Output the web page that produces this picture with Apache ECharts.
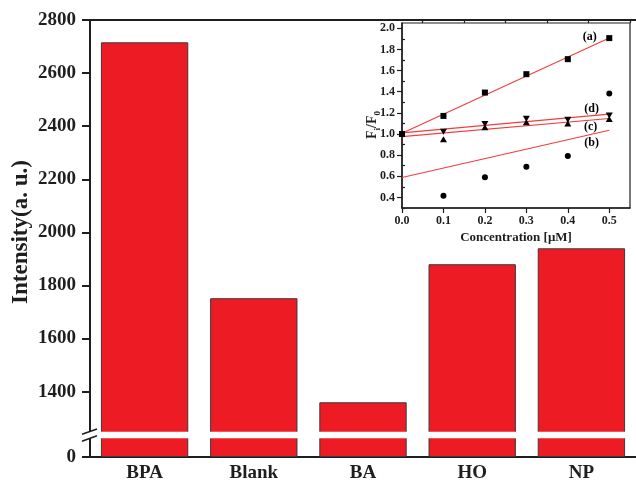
<!DOCTYPE html>
<html>
<head>
<meta charset="utf-8">
<script src="https://cdn.jsdelivr.net/npm/echarts@6/dist/echarts.min.js"></script>
<style>
  html, body { margin: 0; padding: 0; background: #fff; }
  #chart { width: 636px; height: 486px; }
</style>
</head>
<body>
<div id="chart"></div>
<script>
// Main bar chart: fluorescence intensity per sample
const categories = ['BPA', 'Blank', 'BA', 'HO', 'NP'];
const intensity = [2716, 1752, 1360, 1880, 1940];

// Tick values of the broken y axis (upper and lower segments)
const upperLabelTicks = [1400, 1600, 1800, 2000, 2200, 2400, 2600, 2800];
const upperMinorTicks = [1300, 1500, 1700, 1900, 2100, 2300, 2500, 2700];
const lowerLabelTicks = [0];
const lowerMinorTicks = [50];

// Inset: Fi/F0 versus concentration
const concentration = [0, 0.1, 0.2, 0.3, 0.4, 0.5];
const ratioA = [1.0, 1.171, 1.392, 1.566, 1.708, 1.907];
const ratioB = [null, 0.415, 0.59, 0.69, 0.791, 1.382];
const ratioC = [null, 0.95, 1.063, 1.11, 1.10, 1.142];
const ratioD = [null, 1.022, 1.095, 1.145, 1.135, 1.176];

// Linear fits, given at the two ends of the concentration range
const fitEnds = [0, 0.5];
const fitA = [1.006, 1.907];
const fitB = [0.588, 1.036];
const fitC = [0.975, 1.147];
const fitD = [1.011, 1.188];

// Curve tags
const tagText = ['(a)', '(d)', '(c)', '(b)'];
const tagX = [0.453, 0.4575, 0.455, 0.4575];
const tagY = [1.922, 1.237, 1.066, 0.915];

const insetXTicks = [0, 0.1, 0.2, 0.3, 0.4, 0.5];
const insetXMinor = [0.05, 0.15, 0.25, 0.35, 0.45, 0.55];
const insetYTicks = [0.4, 0.6, 0.8, 1.0, 1.2, 1.4, 1.6, 1.8, 2.0];
const insetYMinor = [0.3, 0.5, 0.7, 0.9, 1.1, 1.3, 1.5, 1.7, 1.9];

const SERIF = '"Liberation Serif", "Times New Roman", serif';
const INK = '#1e1e1e';
const BAR_RED = '#ED1C24';
const FIT_RED = '#f23c3c';

const pair = (xs, ys) => xs.map((x, i) => [x, ys[i]]).filter(p => p[1] !== null);
const plain = v => String(v);

const chart = echarts.init(document.getElementById('chart'), null, { renderer: 'canvas' });

const tickLine = { color: INK, width: 2 };
const thinTick = { color: INK, width: 1.2 };
const mainLabel = { color: INK, fontFamily: SERIF, fontWeight: 'bold', fontSize: 19 };
const dot = { color: '#000', opacity: 1 };

const option = {
  backgroundColor: '#fff',
  animation: false,
  grid: [
    { left: 90, top: 20, width: 547, height: 412.8 },   // upper segment
    { left: 90, top: 437, width: 547, height: 20 },     // lower segment
    { left: 402, top: 23, width: 228, height: 185, show: true,
      backgroundColor: '#fff', borderColor: INK, borderWidth: 1.2 }  // inset
  ],
  xAxis: [
    { gridIndex: 0, type: 'category', data: categories, position: 'top',
      axisLine: { onZero: false, lineStyle: tickLine },
      axisTick: { show: false }, axisLabel: { show: false }, splitLine: { show: false } },
    { gridIndex: 1, type: 'category', data: categories, position: 'bottom',
      axisLine: { onZero: false, lineStyle: tickLine },
      axisTick: { alignWithLabel: true, length: 8, lineStyle: tickLine },
      axisLabel: { margin: 7, color: INK, fontFamily: SERIF, fontWeight: 'bold', fontSize: 19 } },
    { gridIndex: 1, type: 'category', data: categories, position: 'bottom',
      axisLine: { show: false, onZero: false },
      axisTick: { alignWithLabel: false, length: 4, lineStyle: tickLine },
      axisLabel: { show: false } },
    { gridIndex: 2, type: 'value', min: 0, max: 0.55,
      axisLine: { onZero: false, lineStyle: { color: INK, width: 1.5 } },
      axisTick: { customValues: insetXTicks, length: 5, lineStyle: thinTick },
      axisLabel: { customValues: insetXTicks, margin: 7, formatter: v => v.toFixed(1),
        color: INK, fontFamily: SERIF, fontWeight: 'bold', fontSize: 12 },
      splitLine: { show: false },
      name: 'Concentration [\u03bcM]', nameLocation: 'middle', nameGap: 23,
      nameTextStyle: { color: INK, fontFamily: SERIF, fontWeight: 'bold', fontSize: 13 } },
    { gridIndex: 2, type: 'value', min: 0, max: 0.55,
      axisLine: { show: false, onZero: false },
      axisTick: { customValues: insetXMinor, length: 3, lineStyle: thinTick },
      axisLabel: { show: false }, splitLine: { show: false } }
  ],
  yAxis: [
    { gridIndex: 0, type: 'value', min: 1245, max: 2800,
      axisLine: { show: true, lineStyle: tickLine },
      axisTick: { show: true, customValues: upperLabelTicks, length: 8, lineStyle: tickLine },
      axisLabel: Object.assign({ customValues: upperLabelTicks, margin: 14, formatter: plain }, mainLabel),
      splitLine: { show: false } },
    { gridIndex: 0, type: 'value', min: 1245, max: 2800,
      axisLine: { show: false },
      axisTick: { show: true, customValues: upperMinorTicks, length: 4, lineStyle: tickLine },
      axisLabel: { show: false }, splitLine: { show: false } },
    { gridIndex: 1, type: 'value', min: 0, max: 100,
      axisLine: { show: true, lineStyle: tickLine },
      axisTick: { show: true, customValues: lowerLabelTicks, length: 8, lineStyle: tickLine },
      axisLabel: Object.assign({ customValues: lowerLabelTicks, margin: 14, formatter: plain }, mainLabel),
      splitLine: { show: false } },
    { gridIndex: 1, type: 'value', min: 0, max: 100,
      axisLine: { show: false },
      axisTick: { show: true, customValues: lowerMinorTicks, length: 4, lineStyle: tickLine },
      axisLabel: { show: false }, splitLine: { show: false } },
    { gridIndex: 2, type: 'value', min: 0.3, max: 2.05,
      axisLine: { show: true, lineStyle: { color: INK, width: 1.5 } },
      axisTick: { show: true, customValues: insetYTicks, length: 5, lineStyle: thinTick },
      axisLabel: { customValues: insetYTicks, margin: 7, formatter: v => v.toFixed(1),
        color: INK, fontFamily: SERIF, fontWeight: 'bold', fontSize: 12 },
      splitLine: { show: false } },
    { gridIndex: 2, type: 'value', min: 0.3, max: 2.05,
      axisLine: { show: false },
      axisTick: { show: true, customValues: insetYMinor, length: 3, lineStyle: thinTick },
      axisLabel: { show: false }, splitLine: { show: false } }
  ],
  series: [
    { type: 'bar', xAxisIndex: 0, yAxisIndex: 0, data: intensity, barWidth: '80%',
      itemStyle: { color: BAR_RED, borderColor: '#3a3a3a', borderWidth: 1 } },
    { type: 'bar', xAxisIndex: 1, yAxisIndex: 2, data: intensity, barWidth: '80%',
      itemStyle: { color: BAR_RED, borderColor: '#3a3a3a', borderWidth: 1 } },

    // inset fit lines
    ...[fitA, fitB, fitC, fitD].map(f => ({
      type: 'line', xAxisIndex: 3, yAxisIndex: 4, data: pair(fitEnds, f),
      symbol: 'none', silent: true, z: 3,
      lineStyle: { color: FIT_RED, width: 1.1 }
    })),

    // inset measured points
    { type: 'scatter', xAxisIndex: 3, yAxisIndex: 4, data: pair(concentration, ratioB),
      symbol: 'circle', symbolSize: 6, itemStyle: dot, z: 4 },
    { type: 'scatter', xAxisIndex: 3, yAxisIndex: 4, data: pair(concentration, ratioC),
      symbol: 'triangle', symbolSize: [7, 6], itemStyle: dot, z: 4 },
    { type: 'scatter', xAxisIndex: 3, yAxisIndex: 4, data: pair(concentration, ratioD),
      symbol: 'triangle', symbolRotate: 180, symbolSize: [7, 6], itemStyle: dot, z: 4 },
    { type: 'scatter', xAxisIndex: 3, yAxisIndex: 4, data: pair(concentration, ratioA),
      symbol: 'rect', symbolSize: 6, itemStyle: dot, z: 5 },

    // curve tags
    { type: 'scatter', xAxisIndex: 3, yAxisIndex: 4, silent: true, z: 6,
      data: tagX.map((x, i) => [x, tagY[i], tagText[i]]),
      symbolSize: 0, itemStyle: dot,
      label: { show: true, position: 'inside', formatter: p => p.value[2],
        color: '#000', fontFamily: SERIF, fontWeight: 'bold', fontSize: 12 } }
  ],
  graphic: [
    // white gap across the bars where the value axis is broken
    { type: 'rect', z: 100, silent: true,
      shape: { x: 84, y: 431.7, width: 560, height: 6.6 },
      style: { fill: '#fff' } },
    // break marks on the value axis
    { type: 'line', z: 101, silent: true,
      shape: { x1: 82, y1: 434.3, x2: 97, y2: 429 },
      style: { stroke: INK, lineWidth: 1.6 } },
    { type: 'line', z: 101, silent: true,
      shape: { x1: 82, y1: 441.2, x2: 97, y2: 435.8 },
      style: { stroke: INK, lineWidth: 1.6 } },
    // main value axis title
    { type: 'text', z: 101, silent: true, x: 21, y: 232, rotation: Math.PI / 2,
      style: { text: 'Intensity(a. u.)', fill: INK, fontFamily: SERIF,
        fontWeight: 'bold', fontSize: 23, align: 'center', verticalAlign: 'middle' } },
    // inset value axis title with subscripts
    { type: 'text', z: 101, silent: true, x: 372, y: 125, rotation: Math.PI / 2,
      style: {
        text: '{n|F}{s|i}{n|/F}{s|0}',
        align: 'center', verticalAlign: 'middle',
        rich: {
          n: { fill: INK, fontFamily: SERIF, fontWeight: 'bold', fontSize: 14, verticalAlign: 'bottom' },
          s: { fill: INK, fontFamily: SERIF, fontWeight: 'bold', fontSize: 9, verticalAlign: 'bottom', padding: [0, 0, -3, 0] }
        }
      } }
  ]
};

chart.setOption(option);
</script>
</body>
</html>
